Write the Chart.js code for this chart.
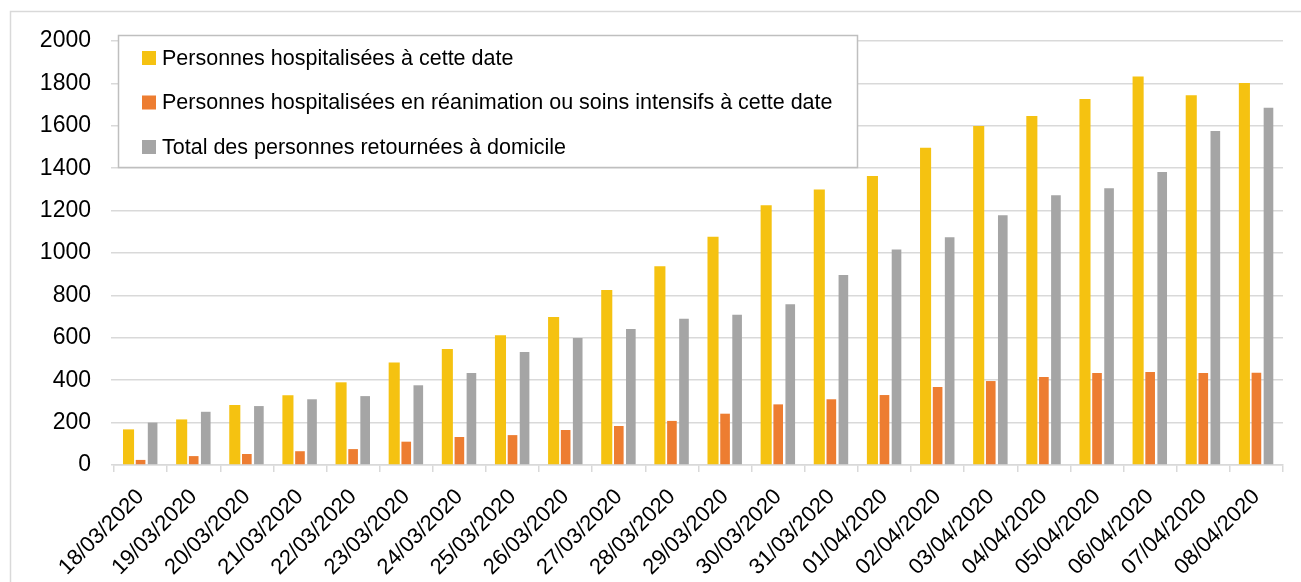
<!DOCTYPE html>
<html lang="fr">
<head>
<meta charset="utf-8">
<title>Personnes hospitalisées</title>
<script src="https://cdn.jsdelivr.net/npm/chart.js@4.4.1/dist/chart.umd.min.js"></script>
<style>
    html, body { margin: 0; padding: 0; background: #ffffff; overflow: hidden; }
    #wrap { position: relative; width: 1301px; height: 582px; }
</style>
</head>
<body>
<div id="wrap"><canvas id="hospChart"></canvas></div>
<script>
// Data
const dates = [
    '18/03/2020', '19/03/2020', '20/03/2020', '21/03/2020', '22/03/2020', '23/03/2020',
    '24/03/2020', '25/03/2020', '26/03/2020', '27/03/2020', '28/03/2020', '29/03/2020',
    '30/03/2020', '31/03/2020', '01/04/2020', '02/04/2020', '03/04/2020', '04/04/2020',
    '05/04/2020', '06/04/2020', '07/04/2020', '08/04/2020'
];
const hospitalises = [168, 215, 283, 329, 390, 484, 547, 612, 698, 825, 937, 1077, 1225, 1300, 1363, 1497, 1599, 1646, 1726, 1832, 1744, 1802];
const reanimation = [24, 42, 52, 65, 75, 110, 132, 141, 165, 184, 208, 242, 286, 310, 330, 368, 396, 415, 434, 439, 434, 435];
const retours = [200, 251, 278, 310, 325, 376, 434, 533, 599, 642, 690, 709, 758, 896, 1016, 1074, 1178, 1272, 1305, 1382, 1575, 1685];
const yTicks = [0, 200, 400, 600, 800, 1000, 1200, 1400, 1600, 1800, 2000];

const seriesNames = [
    'Personnes hospitalisées à cette date',
    'Personnes hospitalisées en réanimation ou soins intensifs à cette date',
    'Total des personnes retournées à domicile'
];
const seriesColors = ['#F5C211', '#ED7D31', '#A5A5A5'];

const FONT = "'Liberation Sans', Arial, sans-serif";
Chart.defaults.font.family = FONT;
Chart.defaults.color = '#000000';

// Outer frame + boxed legend sitting inside the plot
const framePlugin = {
    id: 'frameAndLegend',
    beforeDraw(chart) {
        const ctx = chart.ctx;
        ctx.save();
        ctx.strokeStyle = '#D9D9D9';
        ctx.lineWidth = 1.5;
        ctx.strokeRect(10.5, 11.5, 1400, 700);
        ctx.restore();
    },
    afterDraw(chart) {
        const ctx = chart.ctx;
        ctx.save();
        ctx.fillStyle = '#ffffff';
        ctx.fillRect(118, 35, 740, 133);
        ctx.strokeStyle = '#BFBFBF';
        ctx.lineWidth = 1.5;
        ctx.strokeRect(118.5, 35.5, 739, 132);

        ctx.font = '21.5px ' + FONT;
        ctx.textBaseline = 'middle';
        ctx.textAlign = 'left';
        chart.data.datasets.forEach((ds, i) => {
            const cy = 58 + i * 44.5;
            ctx.fillStyle = ds.backgroundColor;
            ctx.fillRect(142, cy - 7, 14, 14);
            ctx.fillStyle = '#000000';
            ctx.fillText(ds.label, 162, cy + 1);
        });
        ctx.restore();
    }
};

function buildDataset(i, values, barPct) {
    return {
        label: seriesNames[i],
        data: values,
        backgroundColor: seriesColors[i],
        borderWidth: 0,
        barPercentage: barPct,
        categoryPercentage: 0.68
    };
}

const ctx = document.getElementById('hospChart').getContext('2d');
const hospChart = new Chart(ctx, {
    type: 'bar',
    data: {
        labels: dates,
        datasets: [
            buildDataset(0, hospitalises, 0.92),
            buildDataset(1, reanimation, 0.8),
            buildDataset(2, retours, 0.8)
        ]
    },
    options: {
        responsive: true,
        maintainAspectRatio: false,
        animation: false,
        layout: { padding: { top: 41, right: 18, left: 0, bottom: 0 } },
        plugins: {
            legend: { display: false },
            tooltip: { enabled: false }
        },
        scales: {
            x: {
                offset: true,
                grid: {
                    drawOnChartArea: false,
                    color: '#D9D9D9',
                    lineWidth: 1.5,
                    tickLength: 7
                },
                border: { color: '#D9D9D9', width: 1.5 },
                ticks: {
                    font: { size: 22 },
                    minRotation: 45,
                    maxRotation: 45,
                    padding: 12,
                    autoSkip: false
                },
                afterFit(scale) { scale.height = 117; }
            },
            y: {
                min: 0,
                max: 2000,
                afterBuildTicks(scale) {
                    scale.ticks = yTicks.map(v => ({ value: v }));
                },
                grid: {
                    color: '#D9D9D9',
                    lineWidth: 1.5,
                    tickLength: 3
                },
                border: { display: false },
                ticks: {
                    font: { size: 23 },
                    padding: 20,
                    callback: function (value) {
                        return String(value);
                    }
                },
                afterFit(scale) { scale.width = 114; }
            }
        }
    },
    plugins: [framePlugin]
});
</script>
</body>
</html>
